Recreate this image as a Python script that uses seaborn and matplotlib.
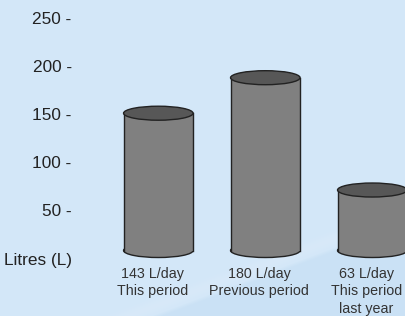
import numpy as np
import pandas as pd
import seaborn as sns
from matplotlib import pyplot as plt
from matplotlib.patches import Ellipse
from matplotlib.transforms import ScaledTranslation

periods = ["This period", "Previous period", "This period\nlast year"]
litres = [143, 180, 63]
y_ticks = [0, 50, 100, 150, 200, 250]
y_tick_labels = ["Litres (L)", "50 -", "100 -", "150 -", "200 -", "250 -"]

df = pd.DataFrame({"Period": periods, "Litres": litres})
df["Label"] = [f"{v} L/day\n{p}" for v, p in zip(litres, periods)]

plt.rcParams["font.family"] = ["Liberation Sans", "DejaVu Sans"]

W, H = 406, 316
fig = plt.figure(figsize=(W / 100, H / 100), dpi=100)

# light blue background with a soft diagonal band in the lower right
yy, xx = np.mgrid[0:H, 0:W]
s = ((xx - 150) * 96 + (yy - 316) * 256) / 273.4
base = np.array([0xD3, 0xE7, 0xF8]) / 255
light = np.array([0xD8, 0xE9, 0xF9]) / 255
dark = np.array([0xCA, 0xE1, 0xF5]) / 255
img = np.ones((H, W, 3)) * base
t_light = np.clip(1 - np.abs(s + 8) / 10, 0, 1)[..., None]
img = img * (1 - t_light) + light * t_light
t_dark = np.clip(s / 4, 0, 1)[..., None]
img = img * (1 - t_dark) + dark * t_dark
bg = fig.add_axes([0, 0, 1, 1])
bg.imshow(img, aspect="auto")
bg.axis("off")

ax = fig.add_axes([80 / W, 65.5 / H, 326 / W, 240 / H])
ax.set_facecolor("none")
sns.barplot(data=df, x="Label", y="Litres", color="#808080", width=0.65,
            linewidth=0, saturation=1, ax=ax)

edge = "#222222"
ell_h = 14.6
for p in ax.patches:
    x0 = p.get_x()
    bw = p.get_width()
    hgt = p.get_height()
    xc = x0 + bw / 2
    p.set_zorder(2)
    ax.add_patch(Ellipse((xc, 0), bw, ell_h, facecolor="#808080", edgecolor=edge,
                         lw=1, zorder=1, clip_on=False))
    ax.plot([x0, x0], [0, hgt], color=edge, lw=1, zorder=3, clip_on=False)
    ax.plot([x0 + bw, x0 + bw], [0, hgt], color=edge, lw=1, zorder=3, clip_on=False)
    ax.add_patch(Ellipse((xc, hgt), bw, ell_h, facecolor="#575757", edgecolor=edge,
                         lw=1, zorder=4, clip_on=False))

ax.set_xlim(-0.732, 2.315)
ax.set_ylim(0, 250)
ax.set_yticks(y_ticks, y_tick_labels)
ax.tick_params(axis="y", length=0, pad=6, labelsize=12.4, labelcolor="#222222")
ax.tick_params(axis="x", length=0, pad=12, labelsize=10.3, labelcolor="#333333")
for lab in ax.get_yticklabels():
    lab.set_transform(lab.get_transform() + ScaledTranslation(0, -0.08, fig.dpi_scale_trans))
for lab in ax.get_xticklabels():
    lab.set_linespacing(1.3)
    lab.set_transform(lab.get_transform() + ScaledTranslation(-0.06, 0, fig.dpi_scale_trans))
ax.set_xlabel("")
ax.set_ylabel("")
for sp in ax.spines.values():
    sp.set_visible(False)

fig.savefig("out.png", dpi=100)
